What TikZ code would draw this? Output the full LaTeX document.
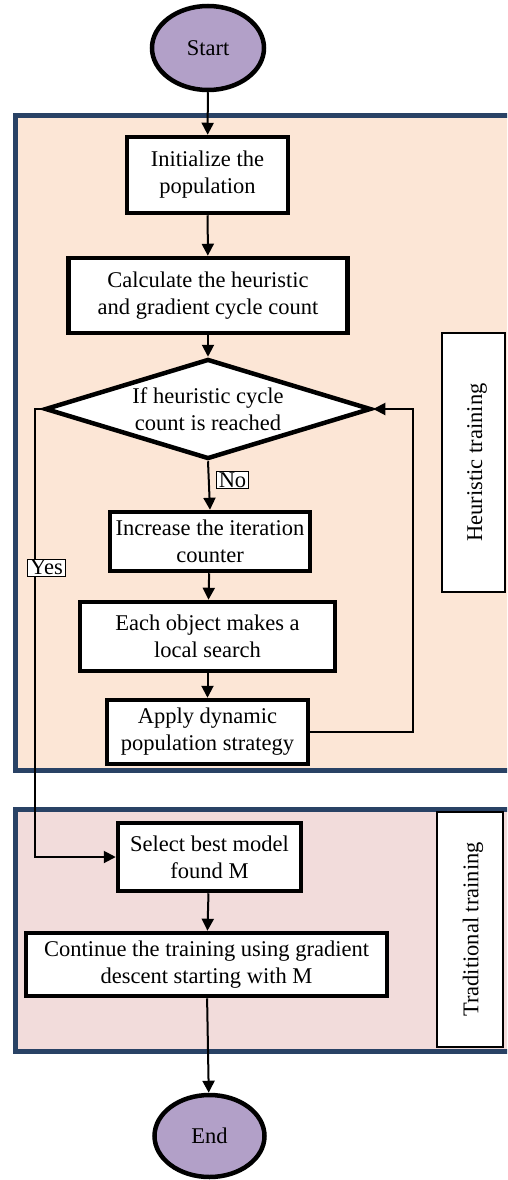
\documentclass[tikz,border=0pt]{standalone}
\usepackage{fontspec}
\setmainfont{Liberation Serif}
\usetikzlibrary{arrows.meta,shapes.geometric}
\definecolor{heurfill}{RGB}{252,230,214}
\definecolor{tradfill}{RGB}{242,220,219}
\definecolor{panelline}{RGB}{41,66,101}
\definecolor{termfill}{RGB}{178,160,200}
\begin{document}
\begin{tikzpicture}[x=1pt,y=-1pt,
  txt/.style={font=\fontsize{22.5}{27}\selectfont, align=center},
  procbox/.style={txt, draw, line width=4.5pt, fill=white, inner sep=0pt},
  termnode/.style={txt, draw, line width=4.5pt, fill=termfill, ellipse, inner sep=0pt},
  panel/.style={draw=panelline, line width=5pt},
  tag/.style={txt, draw, line width=0.8pt, fill=white, inner xsep=2.5pt, inner ysep=1pt},
  sidebox/.style={draw, line width=1.5pt, fill=white},
  arrow/.style={line width=2pt, -{Triangle[length=12pt,width=12pt]}}]
  \useasboundingbox (0,0) rectangle (507,1180);
  \clip (0,0) rectangle (507,1180);
  % panels
  \draw[panel, fill=heurfill] (15.5,115.5) rectangle (530,770.5);
  \draw[panel, fill=tradfill] (15.5,809) rectangle (530,1051.5);
  \draw[sidebox] (442,333) rectangle (505,592);
  \node[txt, rotate=90] (heurlabel) at (477,462.5) {Heuristic training};
  \draw[sidebox] (437,812) rectangle (503,1047);
  \node[txt, rotate=90] (tradlabel) at (473,929.5) {Traditional training};
  % nodes
  \node[termnode, minimum width=112, minimum height=84] (start) at (208,48) {Start};
  \node[procbox, minimum width=161, minimum height=76] (init) at (207.5,175) {Initialize the\\population};
  \node[procbox, minimum width=279, minimum height=75] (calc) at (208,295.5) {Calculate the heuristic\\and gradient cycle count};
  \node[txt, draw, line width=4.5pt, fill=white, diamond, aspect=3.2, inner sep=0pt,
        minimum width=326, minimum height=100] (cond) at (208,409) {If heuristic cycle\\count is reached};
  \node[procbox, minimum width=200, minimum height=59] (incr) at (210,541.5) {Increase the iteration\\counter};
  \node[procbox, minimum width=255, minimum height=69] (search) at (207.5,636.5) {Each object makes a\\local search};
  \node[procbox, minimum width=201, minimum height=64] (apply) at (207.5,732) {Apply dynamic\\population strategy};
  \node[procbox, minimum width=183, minimum height=68] (select) at (209.5,857) {Select best model\\found M};
  \node[procbox, minimum width=361, minimum height=63] (cont) at (206.5,964.5) {Continue the training using gradient\\descent starting with M};
  \node[termnode, minimum width=110, minimum height=82] (end) at (209.5,1136) {End};
  \coordinate (loop) at (413,409);
  \coordinate (yesturn) at (35,409);
  % connectors
  \draw[arrow] (start) -- (init);
  \draw[arrow] (init) -- (calc);
  \draw[arrow] (calc) -- (cond);
  \draw[arrow] (cond.south) -- (incr.north);
  \draw[arrow] (incr) -- (search);
  \draw[arrow] (search) -- (apply);
  \draw[arrow] (apply.east) -| (loop) -- (cond.east);
  \draw[arrow] (cond.west) -- (yesturn) |- (select.west);
  \draw[arrow] (select) -- (cont);
  \draw[arrow] (cont) -- (end);
  \node[tag] (no) at (232.5,480) {No};
  \node[tag] (yes) at (46.5,567.5) {Yes};
\end{tikzpicture}
\end{document}
